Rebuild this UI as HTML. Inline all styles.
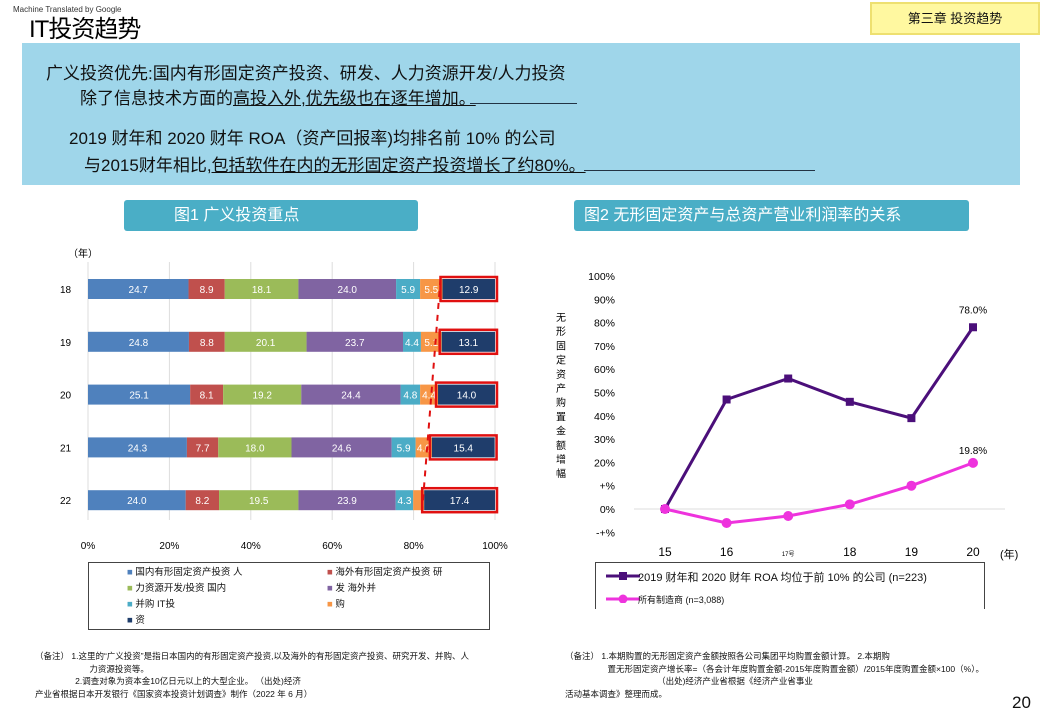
<!DOCTYPE html>
<html><head><meta charset="utf-8"><style>
body{margin:0;width:1040px;height:720px;background:#fff;overflow:hidden;position:relative;font-family:"Liberation Sans","Noto Sans CJK SC",sans-serif;color:#111}
.abs{position:absolute;white-space:nowrap}
</style></head><body>
<div class="abs" style="left:13px;top:5px;font-size:8px;color:#333">Machine Translated by Google</div>
<div class="abs" style="left:29px;top:9px;font-size:24px;letter-spacing:-1px;color:#000">IT投资趋势</div>
<div class="abs" style="left:870px;top:2px;width:166px;height:29px;background:#fff8a0;border:2px solid #eee070;font-size:13px;line-height:29px;text-align:center">第三章 投资趋势</div>
<div class="abs" style="left:22px;top:43px;width:998px;height:142px;background:#9fd6ea"></div>
<div class="abs" style="left:46px;top:59px;font-size:17px">广义投资优先:国内有形固定资产投资、研发、人力资源开发/人力投资</div>
<div class="abs" style="left:80px;top:84px;font-size:17px">除了信息技术方面的<span style="text-decoration:underline">高投入外,优先级也在逐年增加。</span></div>
<div class="abs" style="left:470px;top:103px;width:107px;border-top:1.5px solid #234"></div>
<div class="abs" style="left:69px;top:124px;font-size:17px">2019 财年和 2020 财年 ROA（资产回报率)均排名前 10% 的公司</div>
<div class="abs" style="left:84px;top:151px;font-size:17px">与2015财年相比<span style="text-decoration:underline">,包括软件在内的无形固定资产投资增长了约80%。</span></div>
<div class="abs" style="left:584px;top:170px;width:231px;border-top:1.5px solid #234"></div>
<div class="abs" style="left:124px;top:200px;width:294px;height:31px;background:#4aaec6;border-radius:3px;color:#fff;font-size:16px;line-height:31px;padding-left:50px;box-sizing:border-box">图1 广义投资重点</div>
<div class="abs" style="left:574px;top:200px;width:395px;height:31px;background:#4aaec6;border-radius:3px;color:#fff;font-size:16px;line-height:31px;padding-left:10px;box-sizing:border-box">图2 无形固定资产与总资产营业利润率的关系</div>

<svg id="c1" class="abs" style="left:0;top:0" width="1040" height="720"></svg>

<div class="abs" style="left:88px;top:562px;width:400px;height:66px;border:1px solid #444;font-size:9.5px;line-height:16px">
<div style="position:absolute;left:38px;top:2px"><span style="color:#4f81bd">■</span> 国内有形固定资产投资 人<br><span style="color:#9bbb59">■</span> 力资源开发/投资 国内<br><span style="color:#4bacc6">■</span> 并购 IT投<br><span style="color:#1f3d6b">■</span> 资</div>
<div style="position:absolute;left:238px;top:2px"><span style="color:#c0504d">■</span> 海外有形固定资产投资 研<br><span style="color:#8064a2">■</span> 发 海外并<br><span style="color:#f79646">■</span> 购</div>
</div>
<div class="abs" style="left:595px;top:562px;width:388px;height:46px;border:1px solid #444;border-bottom:none;font-size:11px">
<svg style="position:absolute;left:10px;top:6px" width="34" height="34"><line x1="0" y1="7" x2="34" y2="7" stroke="#4b0f7a" stroke-width="3"/><rect x="13" y="3" width="8" height="8" fill="#4b0f7a"/><line x1="0" y1="30" x2="34" y2="30" stroke="#ee33dd" stroke-width="3"/><circle cx="17" cy="30" r="4.5" fill="#ee33dd"/></svg>
<div style="position:absolute;left:42px;top:6px">2019 财年和 2020 财年 ROA 均位于前 10% 的公司 (n=223)</div>
<div style="position:absolute;left:42px;top:30px;font-size:9px">所有制造商 (n=3,088)</div>
</div>
<div class="abs" style="left:35px;top:650px;font-size:8.5px;line-height:12.5px">（备注） 1.这里的“广义投资”是指日本国内的有形固定资产投资,以及海外的有形固定资产投资、研究开发、并购、人<br>&nbsp;&nbsp;&nbsp;&nbsp;&nbsp;&nbsp;&nbsp;&nbsp;&nbsp;&nbsp;&nbsp;&nbsp;&nbsp;&nbsp;&nbsp;&nbsp;&nbsp;&nbsp;&nbsp;&nbsp;&nbsp;&nbsp;&nbsp;力资源投资等。<br>&nbsp;&nbsp;&nbsp;&nbsp;&nbsp;&nbsp;&nbsp;&nbsp;&nbsp;&nbsp;&nbsp;&nbsp;&nbsp;&nbsp;&nbsp;&nbsp;&nbsp;2.调查对象为资本金10亿日元以上的大型企业。 （出处)经济<br>产业省根据日本开发银行《国家资本投资计划调查》制作（2022 年 6 月）</div>
<div class="abs" style="left:565px;top:650px;font-size:8.5px;line-height:12.5px">（备注） 1.本期购置的无形固定资产金额按照各公司集团平均购置金额计算。 2.本期购<br>&nbsp;&nbsp;&nbsp;&nbsp;&nbsp;&nbsp;&nbsp;&nbsp;&nbsp;&nbsp;&nbsp;&nbsp;&nbsp;&nbsp;&nbsp;&nbsp;&nbsp;&nbsp;置无形固定资产增长率=（各会计年度购置金额-2015年度购置金额）/2015年度购置金额×100（%）。<br>&nbsp;&nbsp;&nbsp;&nbsp;&nbsp;&nbsp;&nbsp;&nbsp;&nbsp;&nbsp;&nbsp;&nbsp;&nbsp;&nbsp;&nbsp;&nbsp;&nbsp;&nbsp;&nbsp;&nbsp;&nbsp;&nbsp;&nbsp;&nbsp;&nbsp;&nbsp;&nbsp;&nbsp;&nbsp;&nbsp;&nbsp;&nbsp;&nbsp;&nbsp;&nbsp;&nbsp;&nbsp;&nbsp;&nbsp;（出处)经济产业省根据《经济产业省事业<br>活动基本调查》整理而成。</div>
<div class="abs" style="left:1012px;top:693px;font-size:17px">20</div>

<script>
const years1=["18","19","20","21","22"];
const s1=[24.7,24.8,25.1,24.3,24.0];
const s2=[8.9,8.8,8.1,7.7,8.2];
const s3=[18.1,20.1,19.2,18.0,19.5];
const s4=[24.0,23.7,24.4,24.6,23.9];
const s5=[5.9,4.4,4.8,5.9,4.3];
const s6=[5.5,5.1,4.4,4.0,2.7];
const s7=[12.9,13.1,14.0,15.4,17.4];
const xTicks1=[0,20,40,60,80,100];

const years2=["15","16","17号","18","19","20"];
const top10=[0,47,56,46,39,78];
const allMfg=[0,-6,-3,2,10,19.8];
const yTicks2=["-+%","0%","+%","20%","30%","40%","50%","60%","70%","80%","90%","100%"];

const NS="http://www.w3.org/2000/svg";
const svg=document.getElementById('c1');
function mk(t,a,txt){const e=document.createElementNS(NS,t);for(const k in a)e.setAttribute(k,a[k]);if(txt!==undefined)e.textContent=txt;svg.appendChild(e);return e;}

// chart 1
const x1=v=>88+v*4.07;
const y1=i=>279+i*52.8;
const bh=20;
xTicks1.forEach(t=>{
 const g=mk('line',{x1:x1(t),x2:x1(t),y1:262,y2:520,stroke:'#ddd'});
 
 
 const l=mk('text',{x:x1(t),y:549,'text-anchor':'middle','font-size':10},t+'%');
 
 
});
const yl=mk('text',{x:68,y:257,'font-size':10},'（年）');


const series=[s1,s2,s3,s4,s5,s6,s7];
const cols=['#4f81bd','#c0504d','#9bbb59','#8064a2','#4bacc6','#f79646','#1f3d6b'];
const boxLeft=[];
years1.forEach((yr,i)=>{
 const yl2=mk('text',{x:60,y:y1(i)+14,'font-size':10},yr);
 
 
 let acc=0;
 series.forEach((s,k)=>{
  const v=s[i];
  const r=mk('rect',{x:x1(acc),y:y1(i),width:v*4.07,height:bh,fill:cols[k]});
  
  
  const t=mk('text',{x:x1(acc+v/2),y:y1(i)+14,'text-anchor':'middle','font-size':10,fill:'#fff'},k==5&&v<3.5?'':v.toFixed(1));
  
  
  if(k==6){
   const bx=mk('rect',{x:x1(acc)-2,y:y1(i)-2,width:v*4.07+4,height:bh+4,fill:'none',stroke:'#e01010','stroke-width':2.5});
   
   
   boxLeft.push([x1(acc)-2,y1(i)]);
  }
  acc+=v;
 });
});
const dl=mk('line',{x1:boxLeft[0][0],y1:boxLeft[0][1],x2:boxLeft[4][0],y2:boxLeft[4][1]+bh,stroke:'#e01010','stroke-width':2,'stroke-dasharray':'6,6'});



// chart 2
const x2=i=>665+i*61.6;
const y2=v=>509-v*2.33;
yTicks2.forEach((t,i)=>{
 const v=(i-1)*10;
 const l=mk('text',{x:615,y:y2(v)+4,'text-anchor':'end','font-size':10.5},t);
 
 
});
const ax=mk('line',{x1:634,x2:1005,y1:y2(0),y2:y2(0),stroke:'#ddd'});


years2.forEach((yr,i)=>{
 const t=mk('text',{x:x2(i),y:556,'text-anchor':'middle','font-size':yr.length>2?6:12},yr);
 
 
});
const xt=mk('text',{x:1000,y:558,'font-size':11},'(年)');


"无形固定资产购置金额增幅".split('').forEach((c,i)=>{
 const t=mk('text',{x:556,y:321+i*14.2,'font-size':10},c);
 
 
});
const p1=mk('polyline',{points:top10.map((v,i)=>x2(i)+','+y2(v)).join(' '),fill:'none',stroke:'#4b0f7a','stroke-width':3});


top10.forEach((v,i)=>{const r=mk('rect',{x:x2(i)-4,y:y2(v)-4,width:8,height:8,fill:'#4b0f7a'});
 
 });
const p2=mk('polyline',{points:allMfg.map((v,i)=>x2(i)+','+y2(v)).join(' '),fill:'none',stroke:'#ee33dd','stroke-width':3});


allMfg.forEach((v,i)=>{const c=mk('circle',{cx:x2(i),cy:y2(v),r:5,fill:'#ee33dd'});
 
 });
const a1=mk('text',{x:x2(5),y:y2(top10[5])-14,'text-anchor':'middle','font-size':10},top10[5].toFixed(1)+'%');


const a2=mk('text',{x:x2(5),y:y2(allMfg[5])-9,'text-anchor':'middle','font-size':10},allMfg[5].toFixed(1)+'%');


</script>
</body></html>
